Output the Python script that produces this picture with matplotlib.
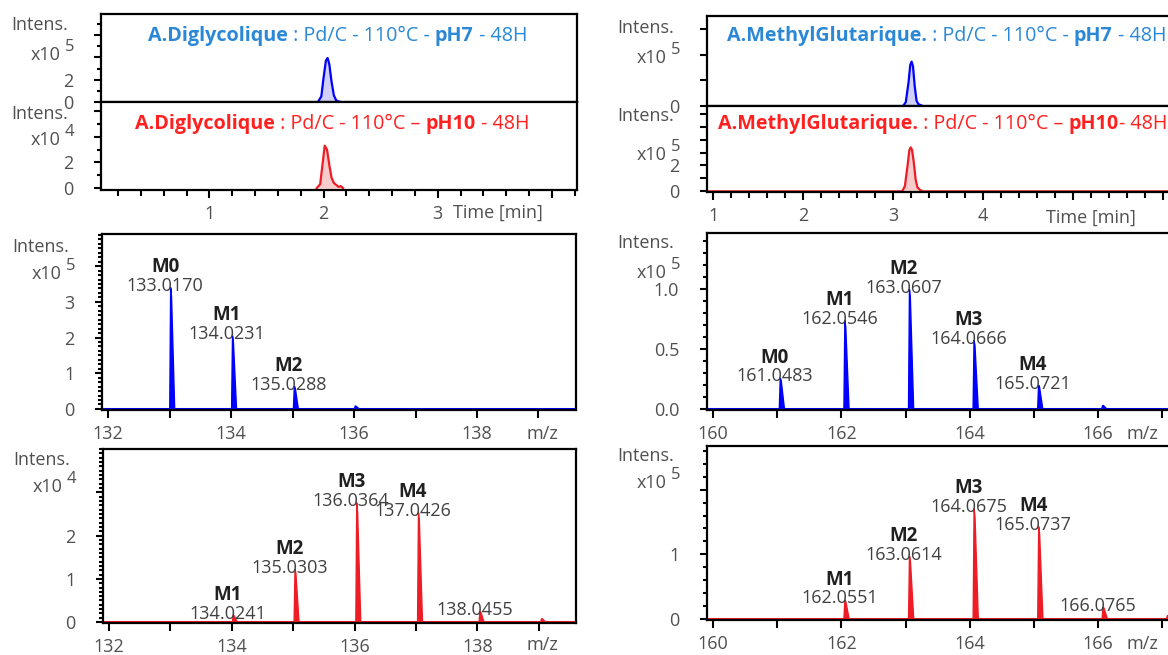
import matplotlib
matplotlib.use("Agg")
import matplotlib.pyplot as plt
from matplotlib.ticker import MultipleLocator, FixedLocator

plt.rcParams['font.family'] = ['Open Sans', 'DejaVu Sans']

W, H = 1168, 655

# ---- chromatograms: time [min] / intensity (axis units) ----
dg_ph7_time = [1.95, 1.98, 2.00, 2.02, 2.035, 2.05, 2.07, 2.09, 2.11, 2.13, 2.15]
dg_ph7_int = [0, 0.5, 2.2, 3.7, 3.95, 3.4, 1.8, 0.6, 0.15, 0.05, 0]
dg_ph10_time = [1.94, 1.97, 1.99, 2.01, 2.03, 2.05, 2.07, 2.09, 2.11, 2.13, 2.15, 2.17]
dg_ph10_int = [0, 0.3, 1.8, 3.3, 3.0, 1.8, 0.8, 0.4, 0.25, 0.1, 0.15, 0]
mg_ph7_time = [3.11, 3.14, 3.17, 3.19, 3.205, 3.22, 3.24, 3.26, 3.28, 3.31, 3.33]
mg_ph7_int = [0, 0.3, 1.8, 3.2, 3.45, 3.1, 1.5, 0.4, 0.15, 0.05, 0]
mg_ph10_time = [0.93, 3.10, 3.13, 3.16, 3.18, 3.195, 3.21, 3.23, 3.25, 3.27, 3.30, 3.33, 6.2]
mg_ph10_int = [0, 0, 0.4, 2.0, 3.2, 3.4, 3.2, 2.2, 0.9, 0.3, 0.1, 0, 0]

# ---- mass spectra: m/z, intensity, isotopologue label ----
dg_ph7_mz = [133.0170, 134.0231, 135.0288, 136.02]
dg_ph7_h = [3.4, 2.05, 0.64, 0.08]
dg_ph7_lab = ["M0", "M1", "M2", None]
dg_ph7_shown = [True, True, True, False]

mg_ph7_mz = [161.0483, 162.0546, 163.0607, 164.0666, 165.0721, 166.07]
mg_ph7_h = [0.26, 0.74, 1.0, 0.575, 0.2, 0.03]
mg_ph7_lab = ["M0", "M1", "M2", "M3", "M4", None]
mg_ph7_shown = [True, True, True, True, True, False]

dg_ph10_mz = [134.0241, 135.0303, 136.0364, 137.0426, 138.0455, 139.05]
dg_ph10_h = [0.16, 1.22, 2.76, 2.53, 0.25, 0.08]
dg_ph10_lab = ["M1", "M2", "M3", "M4", None, None]
dg_ph10_shown = [True, True, True, True, True, False]

mg_ph10_mz = [162.0551, 163.0614, 164.0675, 165.0737, 166.0765, 167.08]
mg_ph10_h = [0.29, 0.97, 1.71, 1.43, 0.18, 0.05]
mg_ph10_lab = ["M1", "M2", "M3", "M4", None, None]
mg_ph10_shown = [True, True, True, True, True, False]

BLUE = '#0000ff'
RED = '#ee1c25'
TXT = '#505050'
TITLE_BLUE = '#2a88d6'
TITLE_RED = '#ff2020'

fig = plt.figure(figsize=(W / 100, H / 100), dpi=100)


def px_axes(x0, y0, x1, y1):
    return fig.add_axes([x0 / W, 1 - y1 / H, (x1 - x0) / W, (y1 - y0) / H])


def ptext(x, y, s, **kw):
    kw.setdefault('color', TXT)
    kw.setdefault('fontsize', 13)
    return fig.text(x / W, 1 - y / H, s, **kw)


def style(ax):
    for sp in ax.spines.values():
        sp.set_linewidth(1.6)
    ax.tick_params(which='both', direction='out', width=1.5, colors='black',
                   labelcolor=TXT, labelsize=13)
    ax.tick_params(axis='y', which='major', length=5, pad=15)
    ax.tick_params(axis='y', which='minor', length=3)
    ax.tick_params(axis='x', which='major', length=6, pad=5)
    ax.tick_params(axis='x', which='minor', length=4)


def intens(axis_left, y_int, y_x10, exp):
    ptext(axis_left - 33, y_int, "Intens.", ha='right', va='center')
    ptext(axis_left - 40, y_x10, "x10", ha='right', va='center')
    ptext(axis_left - 36, y_x10 - 8, exp, ha='left', va='center', fontsize=12)


def rich_title(ax, x, y, parts, color):
    prev = None
    for s, bold in parts:
        w = 'bold' if bold else 'normal'
        if prev is None:
            prev = ptext(x, y, s, ha='left', va='center', color=color,
                         fontsize=14.2, fontweight=w)
        else:
            prev = ax.annotate(s, xy=(1, 0), xycoords=prev, ha='left', va='bottom',
                               color=color, fontsize=14.2, fontweight=w)


def chrom(ax, t, i, color, fill):
    ax.fill_between(t, i, 0, color=fill, lw=0)
    ax.plot(t, i, color=color, lw=1.6)


def spectrum(ax, mz, h, lab, shown, color):
    ax.axhline(0, color=color, lw=2.2, zorder=1)
    for m, v, l, s in zip(mz, h, lab, shown):
        ax.fill([m - 0.015, m, m + 0.014, m + 0.065], [0, v, v * 0.92, 0],
                color=color, lw=1.0, ec=color, zorder=2)
        if s:
            ax.annotate(f"{m:.4f}", xy=(m, v), xytext=(-4, -2.5), textcoords='offset points',
                        ha='center', va='baseline', fontsize=13, color='#404040')
        if l:
            ax.annotate(l, xy=(m, v), xytext=(-4, 11), textcoords='offset points',
                        ha='center', va='baseline', fontsize=13.5, fontweight='bold',
                        color='#202020')


# ---------------- chromatograms, left ----------------
a1 = px_axes(101, 14, 577, 102)
a2 = px_axes(101, 102, 577, 190)
chrom(a1, dg_ph7_time, dg_ph7_int, BLUE, '#d0d0f8')
chrom(a2, dg_ph10_time, dg_ph10_int, RED, '#f8cccc')
for ax in (a1, a2):
    style(ax)
    ax.set_xlim(0.05, 4.22)
a1.set_ylim(0, 7.9)
a1.set_yticks([0, 2, 4, 6], ['0', '2', '', ''])
a1.yaxis.set_minor_locator(FixedLocator([1, 3, 5, 7]))
a1.set_xticks([])
a2.set_ylim(-0.15, 6.7)
a2.set_yticks([0, 2, 4, 6], ['0', '2', '', ''])
a2.yaxis.set_minor_locator(FixedLocator([1, 3, 5]))
a2.set_xticks([1, 2, 3, 4], ['1', '2', '3', ''])
a2.xaxis.set_minor_locator(MultipleLocator(0.2))
intens(101, 25, 55, '5')
intens(101, 114, 140, '4')
rich_title(a1, 148, 36, [("A.Diglycolique", True), (" : Pd/C - 110°C - ", False),
                         ("pH7", True), (" - 48H", False)], TITLE_BLUE)
rich_title(a2, 135, 124, [("A.Diglycolique", True), (" : Pd/C - 110°C – ", False),
                          ("pH10", True), (" - 48H", False)], TITLE_RED)
ptext(498, 213, "Time [min]", ha='center', va='center')

# ---------------- chromatograms, right ----------------
b1 = px_axes(707, 16, 1181, 106)
b2 = px_axes(707, 106, 1181, 192)
chrom(b1, mg_ph7_time, mg_ph7_int, BLUE, '#d0d0f8')
chrom(b2, mg_ph10_time, mg_ph10_int, RED, '#f8cccc')
for ax in (b1, b2):
    style(ax)
    ax.set_xlim(0.93, 6.2)
b1.set_ylim(0, 7.0)
b1.set_yticks([0, 2, 4, 6], ['0', '', '', ''])
b1.set_xticks([])
b2.set_ylim(-0.05, 6.6)
b2.set_yticks([0, 1, 2, 3, 4, 5, 6], ['0', '', '2', '', '', '', ''])
b2.set_xticks([1, 2, 3, 4, 5, 6], ['1', '2', '3', '4', '', ''])
b2.xaxis.set_minor_locator(MultipleLocator(0.2))
intens(707, 28, 58, '5')
intens(707, 116, 155, '5')
rich_title(b1, 727, 36, [("A.MethylGlutarique.", True), (" : Pd/C - 110°C - ", False),
                         ("pH7", True), (" - 48H", False)], TITLE_BLUE)
rich_title(b2, 718, 124, [("A.MethylGlutarique.", True), (" : Pd/C - 110°C – ", False),
                          ("pH10", True), ("- 48H", False)], TITLE_RED)
ptext(1091, 218, "Time [min]", ha='center', va='center')

# ---------------- spectra ----------------
c1 = px_axes(102, 234, 576, 410)
spectrum(c1, dg_ph7_mz, dg_ph7_h, dg_ph7_lab, dg_ph7_shown, BLUE)
c1.set_xlim(131.9, 139.61)
c1.set_ylim(-0.03, 4.9)
c1.set_yticks([0, 1, 2, 3, 4], ['0', '1', '2', '3', ''])
c1.yaxis.set_minor_locator(MultipleLocator(0.125))
c1.set_xticks(range(132, 140), ['132', '', '134', '', '136', '', '138', ''])
intens(102, 247, 274, '5')
ptext(542, 434, "m/z", ha='center', va='center')

c2 = px_axes(707, 233, 1181, 410)
spectrum(c2, mg_ph7_mz, mg_ph7_h, mg_ph7_lab, mg_ph7_shown, BLUE)
c2.set_xlim(159.907, 167.29)
c2.set_ylim(-0.008, 1.47)
c2.set_yticks([0, 0.5, 1.0], ['0.0', '0.5', '1.0'])
c2.yaxis.set_minor_locator(MultipleLocator(0.1))
c2.set_xticks(range(160, 168), ['160', '', '162', '', '164', '', '166', ''])
intens(707, 243, 273, '5')
ptext(1142, 434, "m/z", ha='center', va='center')

d1 = px_axes(103, 449, 576, 623)
spectrum(d1, dg_ph10_mz, dg_ph10_h, dg_ph10_lab, dg_ph10_shown, RED)
d1.set_xlim(131.9, 139.61)
d1.set_ylim(-0.02, 4.0)
d1.set_yticks([0, 1, 2, 3], ['0', '1', '2', ''])
d1.yaxis.set_minor_locator(MultipleLocator(0.1))
d1.set_xticks(range(132, 140), ['132', '', '134', '', '136', '', '138', ''])
intens(103, 460, 487, '4')
ptext(542, 645, "m/z", ha='center', va='center')

d2 = px_axes(707, 446, 1181, 620)
spectrum(d2, mg_ph10_mz, mg_ph10_h, mg_ph10_lab, mg_ph10_shown, RED)
d2.set_xlim(159.907, 167.29)
d2.set_ylim(-0.02, 2.68)
d2.set_yticks([0, 1, 2], ['0', '1', ''])
d2.yaxis.set_minor_locator(MultipleLocator(0.2))
d2.set_xticks(range(160, 168), ['160', '', '162', '', '164', '', '166', ''])
intens(707, 456, 483, '5')
ptext(1142, 644, "m/z", ha='center', va='center')

for ax in (c1, c2, d1, d2):
    style(ax)

fig.savefig("out.png", dpi=100)
